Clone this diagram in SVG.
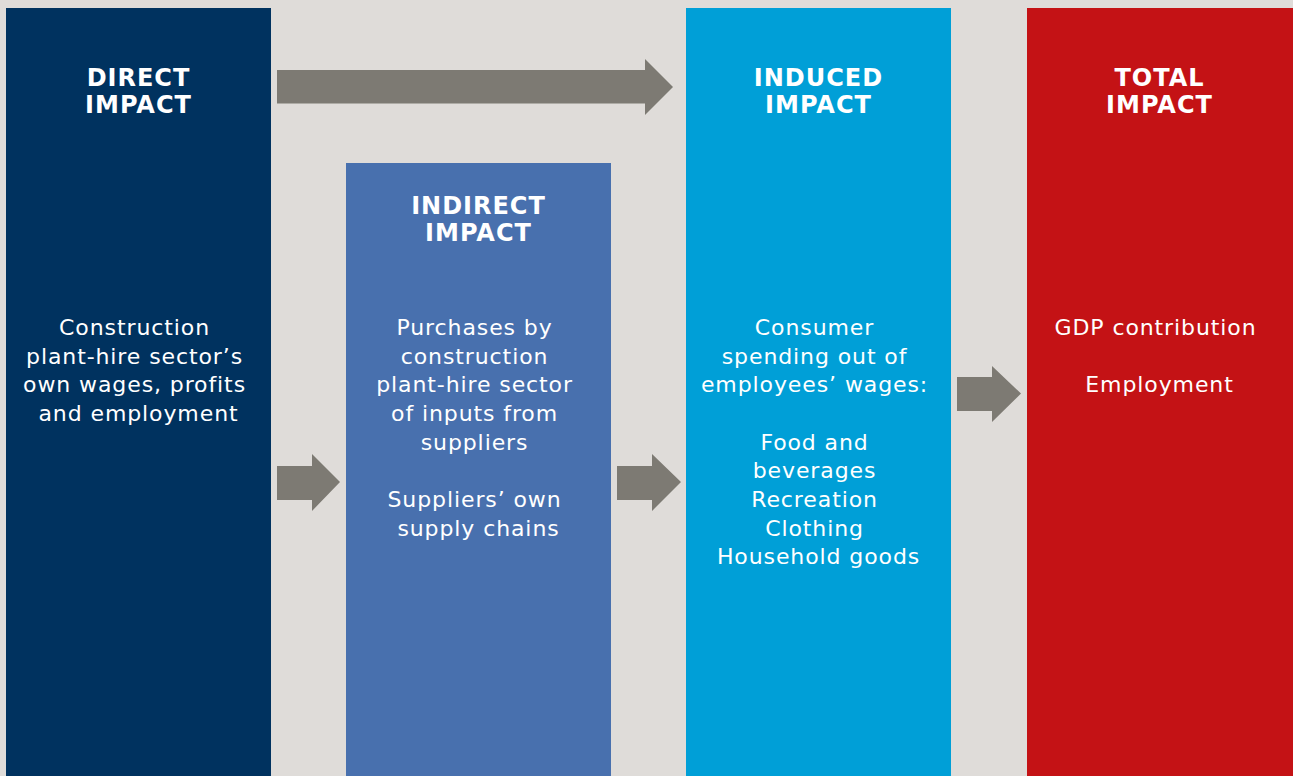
<svg xmlns="http://www.w3.org/2000/svg" width="1293" height="776" viewBox="0 0 1293 776">
  <style>
    .head { font-family: "DejaVu Sans", "Liberation Sans", sans-serif; font-weight: 700; font-size: 24px; letter-spacing: 1px; fill: #ffffff; text-anchor: middle; }
    .body { font-family: "DejaVu Sans", "Liberation Sans", sans-serif; font-weight: 400; font-size: 22px; letter-spacing: 0.9px; fill: #ffffff; text-anchor: middle; }
    .arrow { fill: #7d7a73; }
  </style>
  <rect x="0" y="0" width="1293" height="776" fill="#dfdcd9"/>

  <g id="direct">
    <rect x="6" y="8" width="265" height="768" fill="#00325f"/>
    <text class="head"><tspan x="138.5" y="86">DIRECT</tspan><tspan x="138.5" y="113">IMPACT</tspan></text>
    <text class="body">
      <tspan x="138.5" y="335">Construction</tspan>
      <tspan x="138.5" y="364">plant-hire sector’s</tspan>
      <tspan x="138.5" y="392">own wages, profits</tspan>
      <tspan x="138.5" y="421">and employment</tspan>
    </text>
  </g>

  <g id="indirect">
    <rect x="346" y="163" width="265" height="613" fill="#4870ae"/>
    <text class="head"><tspan x="478.5" y="214">INDIRECT</tspan><tspan x="478.5" y="241">IMPACT</tspan></text>
    <text class="body">
      <tspan x="478.5" y="335">Purchases by</tspan>
      <tspan x="478.5" y="364">construction</tspan>
      <tspan x="478.5" y="392">plant-hire sector</tspan>
      <tspan x="478.5" y="421">of inputs from</tspan>
      <tspan x="478.5" y="450">suppliers</tspan>
      <tspan x="478.5" y="507">Suppliers’ own</tspan>
      <tspan x="478.5" y="536">supply chains</tspan>
    </text>
  </g>

  <g id="induced">
    <rect x="686" y="8" width="265" height="768" fill="#009fd7"/>
    <text class="head"><tspan x="818.5" y="86">INDUCED</tspan><tspan x="818.5" y="113">IMPACT</tspan></text>
    <text class="body">
      <tspan x="818.5" y="335">Consumer</tspan>
      <tspan x="818.5" y="364">spending out of</tspan>
      <tspan x="818.5" y="392">employees’ wages:</tspan>
      <tspan x="818.5" y="450">Food and</tspan>
      <tspan x="818.5" y="478">beverages</tspan>
      <tspan x="818.5" y="507">Recreation</tspan>
      <tspan x="818.5" y="536">Clothing</tspan>
      <tspan x="818.5" y="564">Household goods</tspan>
    </text>
  </g>

  <g id="total">
    <rect x="1027" y="8" width="266" height="768" fill="#c41215"/>
    <text class="head"><tspan x="1159.5" y="86">TOTAL</tspan><tspan x="1159.5" y="113">IMPACT</tspan></text>
    <text class="body">
      <tspan x="1159.5" y="335">GDP contribution</tspan>
      <tspan x="1159.5" y="392">Employment</tspan>
    </text>
  </g>

  <g id="connectors">
    <polygon class="arrow" points="277,70 645,70 645,59 673,87 645,115 645,103.5 277,103.5"/>
    <polygon class="arrow" points="277,466 312,466 312,454 340,482 312,511 312,500 277,500"/>
    <polygon class="arrow" points="617,466 652,466 652,454 681,482 652,511 652,500 617,500"/>
    <polygon class="arrow" points="957,377 992,377 992,366 1021,393.5 992,422 992,411 957,411"/>
  </g>
</svg>
